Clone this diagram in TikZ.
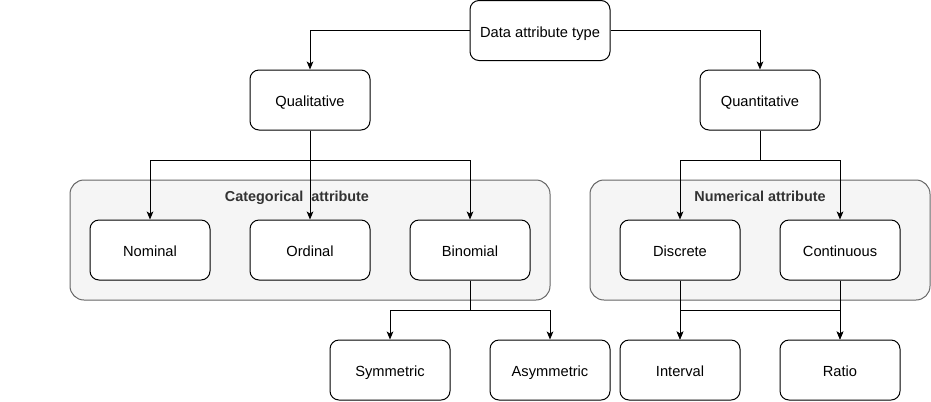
\documentclass[tikz,border=0pt]{standalone}
\usepackage{fontspec}
\setmainfont{Liberation Sans}
\usetikzlibrary{arrows.meta}
\begin{document}
\begin{tikzpicture}[x=0.75pt,y=-0.75pt,
  box/.style={draw=black, line width=0.75pt, rounded corners=6.75pt, fill=white,
    minimum width=90pt, minimum height=45pt, inner sep=0pt,
    text height=11pt, text depth=1pt,
    font=\fontsize{11pt}{13pt}\selectfont},
  group/.style={draw=black!60, line width=0.75pt, rounded corners=10.5pt, fill=black!4,
    minimum height=90pt, inner sep=0pt},
  grouplabel/.style={inner sep=0pt, text=black!80, text height=11pt, text depth=1pt,
    font=\fontsize{10.8pt}{13pt}\selectfont\bfseries},
  arr/.style={line width=0.75pt, -{Stealth[length=6pt,width=5pt,inset=1.5pt]}}]
\useasboundingbox (0,0) rectangle (931,401);
% containers
\node[group, minimum width=360pt] (cat) at (310,240) {};
\node[group, minimum width=255pt] (num) at (760,240) {};
\node[grouplabel] (catlabel) at (297,195) {Categorical\ \ attribute};
\node[grouplabel] (numlabel) at (760,195) {Numerical attribute};
% boxes
\node[box, minimum width=105pt] (dat) at (540,30.5) {Data attribute type};
\node[box] (qual) at (310,100) {Qualitative};
\node[box] (quant) at (760,100) {Quantitative};
\node[box] (nom) at (150,250) {Nominal};
\node[box] (ord) at (310,250) {Ordinal};
\node[box] (bin) at (470,250) {Binomial};
\node[box] (disc) at (680,250) {Discrete};
\node[box] (cont) at (840,250) {Continuous};
\node[box] (sym) at (390,370) {Symmetric};
\node[box] (asym) at (550,370) {Asymmetric};
\node[box] (int) at (680,370) {Interval};
\node[box] (ratio) at (840,370) {Ratio};
% connectors
\draw[arr] (dat.west) -| (qual.north);
\draw[arr] (dat.east) -| (quant.north);
\draw[arr] (qual.south) -- ++(0,30) -| (nom.north);
\draw[arr] (qual.south) -- (ord.north);
\draw[arr] (qual.south) -- ++(0,30) -| (bin.north);
\draw[arr] (quant.south) -- ++(0,30) -| (disc.north);
\draw[arr] (quant.south) -- ++(0,30) -| (cont.north);
\draw[arr] (bin.south) -- ++(0,30) -| (sym.north);
\draw[arr] (bin.south) -- ++(0,30) -| (asym.north);
\draw[arr] (disc.south) -- (int.north);
\draw[arr] (disc.south) -- ++(0,30) -| (ratio.north);
\draw[arr] (cont.south) -- (ratio.north);
\draw[arr] (cont.south) -- ++(0,30) -| (int.north);
\end{tikzpicture}
\end{document}
